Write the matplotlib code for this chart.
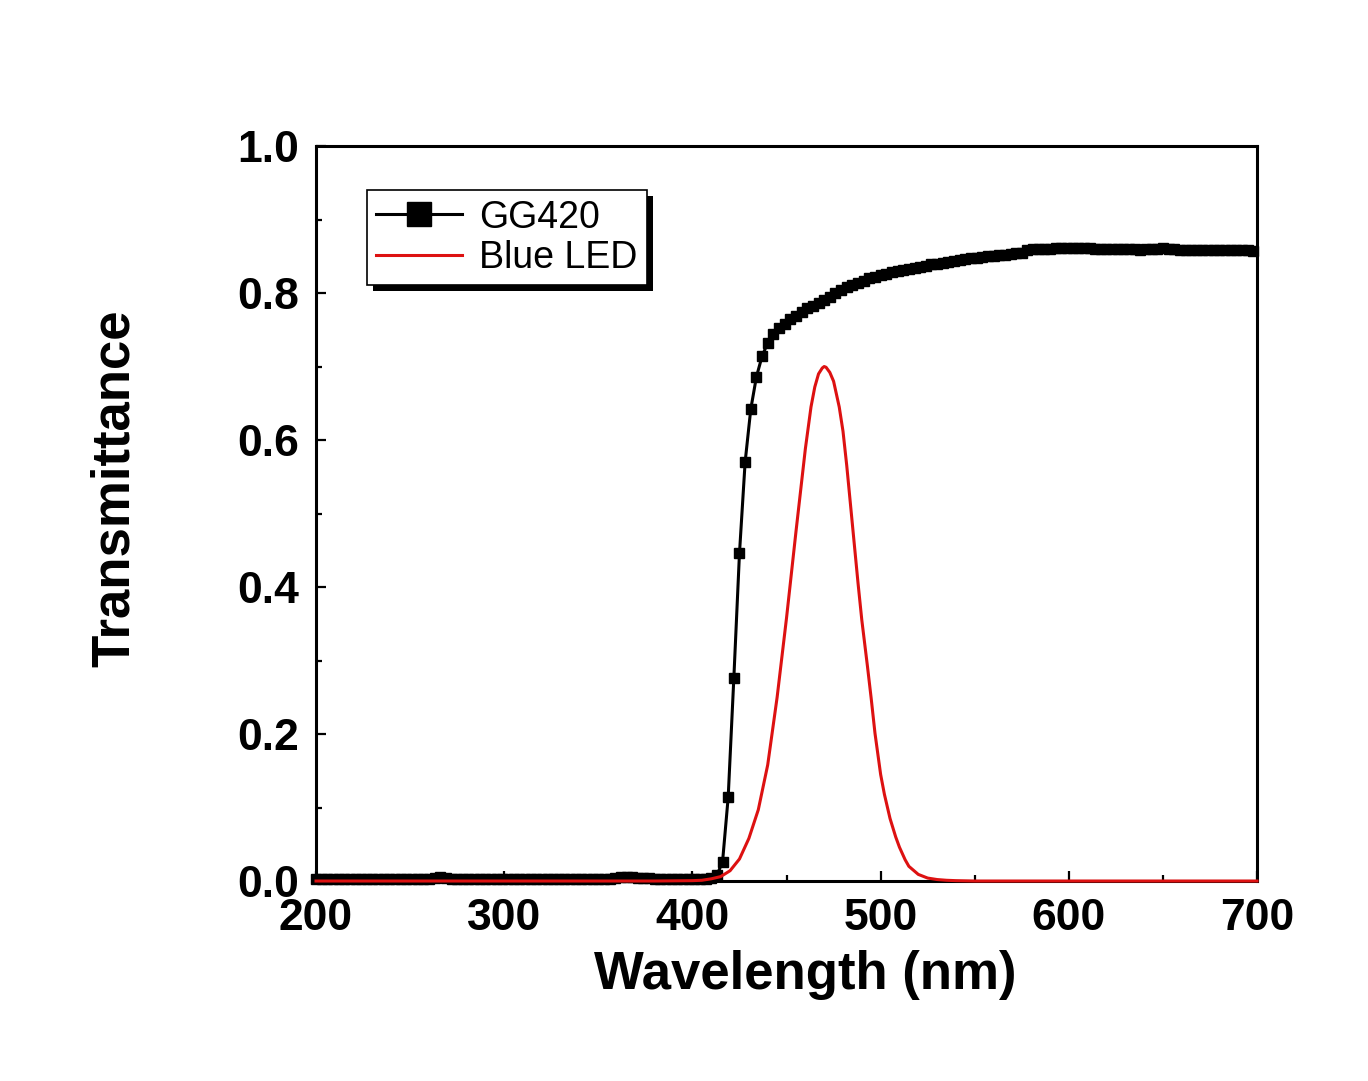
import numpy as np
import matplotlib
matplotlib.use("Agg")
import matplotlib.pyplot as plt
from matplotlib.patches import Rectangle
from matplotlib.ticker import MultipleLocator

plt.rcParams['font.family'] = ['Liberation Sans', 'DejaVu Sans']

# GG420 transmittance, read at a 3 nm step starting at 200 nm
gg420_T = [
    # 200 - 260
    0.003, 0.003, 0.003, 0.003, 0.003, 0.003, 0.003, 0.003, 0.003, 0.003,
    0.003, 0.003, 0.003, 0.003, 0.003, 0.003, 0.003, 0.003, 0.003, 0.003,
    0.003,
    # 263 - 269
    0.004, 0.005, 0.004,
    # 272 - 356
    0.003, 0.003, 0.003, 0.003, 0.003, 0.003, 0.003, 0.003, 0.003, 0.003,
    0.003, 0.003, 0.003, 0.003, 0.003, 0.003, 0.003, 0.003, 0.003, 0.003,
    0.003, 0.003, 0.003, 0.003, 0.003, 0.003, 0.003, 0.003, 0.003,
    # 359 - 380
    0.004, 0.005, 0.005, 0.005, 0.004, 0.004, 0.004, 0.003,
    # 383 - 407
    0.003, 0.003, 0.003, 0.003, 0.003, 0.003, 0.003, 0.003, 0.003,
    # 410
    0.004,
    # 413 - 599
    0.008, 0.026, 0.114, 0.276, 0.446, 0.570, 0.642, 0.686, 0.714, 0.732,
    0.744, 0.752, 0.758, 0.764, 0.769, 0.774, 0.779, 0.783, 0.787, 0.791,
    0.795, 0.800, 0.804, 0.808, 0.811, 0.814, 0.817, 0.820, 0.822, 0.824,
    0.826, 0.828, 0.830, 0.831, 0.833, 0.834, 0.836, 0.837, 0.839, 0.840,
    0.841, 0.842, 0.843, 0.845, 0.846, 0.847, 0.848, 0.849, 0.850, 0.851,
    0.852, 0.852, 0.853, 0.854, 0.855, 0.859, 0.860, 0.860, 0.860, 0.860,
    0.861, 0.861, 0.861,
    # 602 - 698
    0.861, 0.861, 0.861, 0.861, 0.860, 0.860, 0.860, 0.860, 0.860, 0.860,
    0.860, 0.860, 0.859, 0.860, 0.860, 0.860, 0.861, 0.860, 0.860, 0.859,
    0.859, 0.859, 0.859, 0.859, 0.859, 0.858, 0.858, 0.858, 0.858, 0.858,
    0.858, 0.858, 0.857,
]
gg420_wl = np.arange(200, 200 + 3 * len(gg420_T), 3)

# Blue LED emission (normalised to the plot scale)
led_wl = [200, 300, 380, 400, 405, 410, 415, 420, 425, 430, 435, 440, 445,
          450, 455, 460, 463, 465, 467, 469, 470, 471, 473, 475, 478, 480,
          482, 485, 488, 490, 493, 495, 497, 500, 502, 505, 508, 510, 513,
          515, 520, 525, 530, 535, 540, 550, 600, 700]
led_I = [0, 0, 0, 0.0005, 0.001, 0.003, 0.006, 0.014, 0.030, 0.058, 0.097,
         0.158, 0.250, 0.358, 0.475, 0.588, 0.645, 0.672, 0.690, 0.698, 0.700,
         0.699, 0.692, 0.680, 0.645, 0.612, 0.565, 0.485, 0.405, 0.355, 0.292,
         0.248, 0.201, 0.145, 0.118, 0.085, 0.060, 0.046, 0.029, 0.020, 0.009,
         0.004, 0.002, 0.001, 0.0005, 0, 0, 0]

fig = plt.figure(figsize=(13.68, 10.81), dpi=100)
ax = fig.add_axes([0.2310, 0.1850, 0.6879, 0.6799])

ax.plot(gg420_wl, gg420_T, color='black', lw=2.2, marker='s', ms=7.3,
        mec='black', mfc='black', label='GG420', clip_on=False, zorder=3)
ax.plot(led_wl, led_I, color='#dd1111', lw=2.2, label='Blue LED',
        clip_on=False, zorder=4)

ax.set_xlim(200, 700)
ax.set_ylim(0, 1.0)
ax.xaxis.set_major_locator(MultipleLocator(100))
ax.xaxis.set_minor_locator(MultipleLocator(50))
ax.yaxis.set_major_locator(MultipleLocator(0.2))
ax.yaxis.set_minor_locator(MultipleLocator(0.1))
ax.yaxis.set_major_formatter(plt.FuncFormatter(lambda v, p: f'{v:.1f}'))

ax.tick_params(which='both', direction='in', top=False, right=False,
               width=1.6, labelsize=32)
ax.tick_params(which='major', length=7, pad=12)
ax.tick_params(which='minor', length=4)
for lab in ax.get_xticklabels() + ax.get_yticklabels():
    lab.set_fontweight('bold')
for sp in ax.spines.values():
    sp.set_linewidth(2.2)

ax.set_xlabel('Wavelength (nm)', fontsize=38, fontweight='bold', labelpad=8)
ax.set_ylabel('Transmittance', fontsize=38, fontweight='bold', labelpad=70)
ax.xaxis.label.set_x(0.52)
ax.yaxis.label.set_y(0.534)

leg = ax.legend(loc='upper left', bbox_to_anchor=(0.054, 0.94),
                borderaxespad=0, fontsize=27, frameon=True, fancybox=False,
                edgecolor='black', framealpha=1, handlelength=2.3,
                handletextpad=0.45, borderpad=0.25, labelspacing=0.12,
                markerscale=2.4)
leg.get_frame().set_linewidth(1.2)
leg.set_zorder(10)

# solid black drop shadow behind the legend box
fig.canvas.draw()
bb = leg.get_window_extent()
shadow = Rectangle((bb.x0 + 6, bb.y0 - 6), bb.width, bb.height,
                   transform=None, facecolor='black', edgecolor='none',
                   zorder=9, clip_on=False)
ax.add_artist(shadow)

fig.savefig('out.png', dpi=100)
